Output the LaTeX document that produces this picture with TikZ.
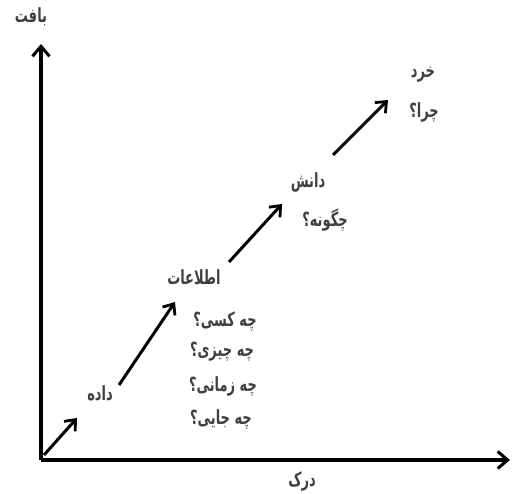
\documentclass[tikz,border=0pt]{standalone}
\usepackage{fontspec}
\usepackage{graphicx}
\TeXXeTstate=1
\newfontfamily\arabicfont[Script=Arabic]{DejaVu Sans}
\usetikzlibrary{arrows.meta}
\newcommand{\artxt}[1]{\scalebox{1}[1.5]{\beginR #1\endR}}
\begin{document}
\begin{tikzpicture}[x=1pt,y=-1pt,
  axis/.style={line width=3.2pt,-{Straight Barb[length=10pt,width=17pt,line width=3pt]}},
  stage/.style={line width=3pt,-{Straight Barb[length=9pt,width=15pt,line width=2.8pt]}},
  lbl/.style={font=\arabicfont\fontsize{13}{15}\selectfont\bfseries, text=black!75, inner sep=1pt}]
\useasboundingbox (0,0) rectangle (513,493);
\coordinate (O) at (41,460);
\coordinate (ytip) at (41,44);
\coordinate (xtip) at (510,460);
\draw[axis] (O) -- (ytip);
\draw[axis] (O) -- (xtip);
\node[lbl] (ylab) at (31,17) {\artxt{بافت}};
\node[lbl] (xlab) at (302,481) {\artxt{درک}};
\coordinate (a1s) at (44,455);
\coordinate (a1e) at (77,418);
\coordinate (a2s) at (119,385);
\coordinate (a2e) at (175,302);
\coordinate (a3s) at (229,262);
\coordinate (a3e) at (282,204);
\coordinate (a4s) at (333,155);
\coordinate (a4e) at (388,100);
\draw[stage] (a1s) -- (a1e);
\draw[stage] (a2s) -- (a2e);
\draw[stage] (a3s) -- (a3e);
\draw[stage] (a4s) -- (a4e);
\node[lbl] (data) at (100,393) {\artxt{داده}};
\node[lbl] (info) at (194,277) {\artxt{اطلاعات}};
\node[lbl] (q1) at (225,321) {\artxt{چه کسی؟}};
\node[lbl] (q2) at (222,352) {\artxt{چه چیزی؟}};
\node[lbl] (q3) at (223,386) {\artxt{چه زمانی؟}};
\node[lbl] (q4) at (221,419) {\artxt{چه جایی؟}};
\node[lbl] (know) at (308,182) {\artxt{دانش}};
\node[lbl] (how) at (325,220) {\artxt{چگونه؟}};
\node[lbl] (wis) at (423,75) {\artxt{خرد}};
\node[lbl] (why) at (424,112) {\artxt{چرا؟}};
\end{tikzpicture}
\end{document}
